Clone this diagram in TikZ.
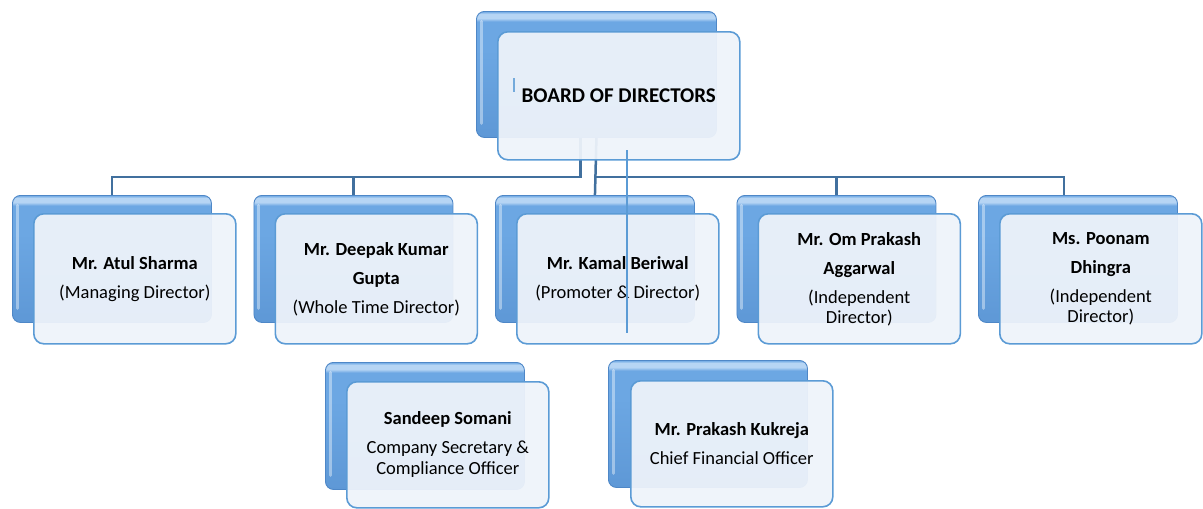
\documentclass[tikz,border=0pt]{standalone}
\usepackage{fontspec}
\setmainfont{Carlito}
\usetikzlibrary{calc,backgrounds}
\definecolor{backhi}{HTML}{B6D5F4}
\definecolor{backmid}{HTML}{6CA7E3}
\definecolor{backbot}{HTML}{5E98D6}
\definecolor{backedge}{HTML}{4E87C7}
\definecolor{frontfill}{HTML}{EEF3FA}
\definecolor{frontedge}{HTML}{5B9BD5}
\definecolor{conncol}{HTML}{41709E}
\definecolor{thincol}{HTML}{5B9BD5}
\pgfdeclareverticalshading{bevelshade}{100bp}{color(0bp)=(backbot); color(25bp)=(backbot); color(60bp)=(backmid); color(71bp)=(backmid); color(72.3bp)=(backhi); color(74bp)=(backhi); color(75bp)=(backmid); color(100bp)=(backmid)}
\tikzset{
  backbox/.style={draw=backedge, line width=0.9pt, rounded corners=8pt,
    shading=bevelshade,
    path picture={\draw[white, opacity=0.4, line width=3pt, line cap=round]
      ($(path picture bounding box.south west)+(5,-14)$) -- ($(path picture bounding box.north west)+(5,10)$);},
    minimum width=199pt, minimum height=127pt, anchor=north west, inner sep=0pt},
  frontbox/.style={draw=frontedge, line width=1.6pt, rounded corners=10pt,
    fill=frontfill, fill opacity=0.94, text opacity=1,
    minimum width=202pt, minimum height=130pt, anchor=north west,
    align=center, font=\fontsize{18.5}{29}\selectfont, inner sep=2pt},
  conn/.style={draw=conncol, line width=2.5pt},
  thinline/.style={draw=thincol, line width=1.8pt},
  cursormark/.style={draw=thincol!85, line width=1.5pt},
}
\begin{document}
\begin{tikzpicture}[x=1pt,y=-1pt]
\useasboundingbox (0,0) rectangle (1203,509);
% top
\node[backbox, minimum width=240pt, minimum height=126pt] (bt) at (476,11) {};
\node[frontbox, minimum width=242pt, minimum height=128pt, font=\fontsize{21}{25}\selectfont\bfseries] (ft) at (497,31) {BOARD OF DIRECTORS};
% row 1
\node[backbox] (b1) at (12,195) {};
\node[frontbox] (f1) at (33,213) {\textbf{Mr. Atul Sharma}\\(Managing Director)};
\node[backbox] (b2) at (253.5,195) {};
\node[frontbox] (f2) at (274.5,213) {\textbf{Mr. Deepak Kumar}\\\textbf{Gupta}\\(Whole Time Director)};
\node[backbox] (b3) at (495,195) {};
\node[frontbox] (f3) at (516,213) {\textbf{Mr. Kamal Beriwal}\\(Promoter \& Director)};
\node[backbox] (b4) at (736.5,195) {};
\node[frontbox] (f4) at (757.5,213) {\textbf{Mr. Om Prakash}\\\textbf{Aggarwal}\\(Independent\\[-9pt]Director)};
\node[backbox] (b5) at (978,195) {};
\node[frontbox] (f5) at (999,213) {\textbf{Ms. Poonam}\\\textbf{Dhingra}\\(Independent\\[-9pt]Director)};
% row 2
\node[backbox] (b6) at (325,362) {};
\node[frontbox, minimum height=126pt] (f6) at (346,381) {\textbf{Sandeep Somani}\\Company Secretary \&\\[-8pt]Compliance Officer};
\node[backbox] (b7) at (608,360) {};
\node[frontbox, minimum height=126pt] (f7) at (630,380) {\textbf{Mr. Prakash Kukreja}\\Chief Financial Officer};
% connectors
\begin{scope}[on background layer]
\coordinate (busL) at ($(bt.south)+(-16,39)$);
\coordinate (busR) at ($(bt.south)+(0,39)$);
\draw[conn] ($(bt.south)+(-16,0)$) -- (busL) -| (b1.north);
\draw[conn] (b2.north) -- (b2.north |- busL);
\draw[conn] (bt.south) -- (b3.north);
\draw[conn] (busR) -| ($(b5.north)+(-14,0)$);
\draw[conn] (b4.north) -- (b4.north |- busR);
\end{scope}
\coordinate (vt) at (627,150);
\coordinate (vb) at (627,333);
\draw[thinline] (vt) -- (vb);
\coordinate (c1) at (514,78);
\coordinate (c2) at (514,92);
\draw[cursormark] (c1) -- (c2);
\end{tikzpicture}
\end{document}
